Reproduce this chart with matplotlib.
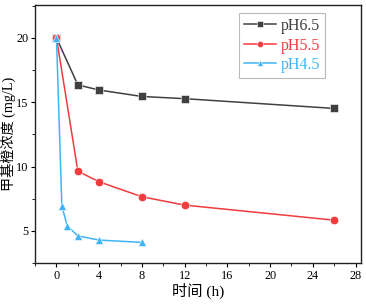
import matplotlib
matplotlib.use("Agg")
import matplotlib.pyplot as plt
from matplotlib.ticker import MultipleLocator

plt.rcParams["font.family"] = ["Liberation Serif", "Noto Sans CJK SC"]

# data
t_65 = [0, 2, 4, 8, 12, 26]
c_65 = [20, 16.35, 15.95, 15.45, 15.28, 14.52]
t_55 = [0, 2, 4, 8, 12, 26]
c_55 = [20, 9.64, 8.81, 7.65, 7.0, 5.83]
t_45 = [0, 0.5, 1, 2, 4, 8]
c_45 = [20, 6.95, 5.39, 4.6, 4.28, 4.1]
labels = ["pH6.5", "pH5.5", "pH4.5"]
colors = ["#404040", "#f03c3c", "#3fb5f5"]
markers = ["s", "o", "^"]

fig = plt.figure(figsize=(3.66, 3.04), dpi=100)
ax = fig.add_axes([0.096, 0.135, 0.89, 0.85])

for t, c, lab, col, m in zip([t_65, t_55, t_45], [c_65, c_55, c_45],
                             labels, colors, markers):
    ax.plot(t, c, color=col, marker=m, ms=6, lw=1.1, label=lab,
            markeredgecolor="white", markeredgewidth=0.4)

ax.set_xlim(-2, 28.5)
ax.set_ylim(2.5, 22.6)
ax.xaxis.set_major_locator(MultipleLocator(4))
ax.xaxis.set_minor_locator(MultipleLocator(2))
ax.yaxis.set_major_locator(MultipleLocator(5))
ax.yaxis.set_minor_locator(MultipleLocator(2.5))
ax.tick_params(which="major", length=3, labelsize=8.8, width=0.8, pad=2)
ax.tick_params(which="minor", length=2, width=0.6)
for s in ax.spines.values():
    s.set_linewidth(1.0)
    s.set_color("#222222")

ax.set_xlabel("时间 (h)", fontsize=11, labelpad=1)
ax.set_ylabel("甲基橙浓度 (mg/L)", fontsize=10.2, va="center")
ax.yaxis.set_label_coords(-0.081, 0.5)

leg = ax.legend(loc="upper right", bbox_to_anchor=(0.905, 0.985), fontsize=11.5,
                frameon=True, fancybox=False, edgecolor="#aaaaaa",
                handlelength=2.0, borderpad=0.3, labelspacing=0.22,
                handletextpad=0.3, borderaxespad=0.3, markerscale=0.75)
leg.get_frame().set_linewidth(0.8)
for txt, col in zip(leg.get_texts(), colors):
    txt.set_color(col)

fig.savefig("out.png", dpi=100)
